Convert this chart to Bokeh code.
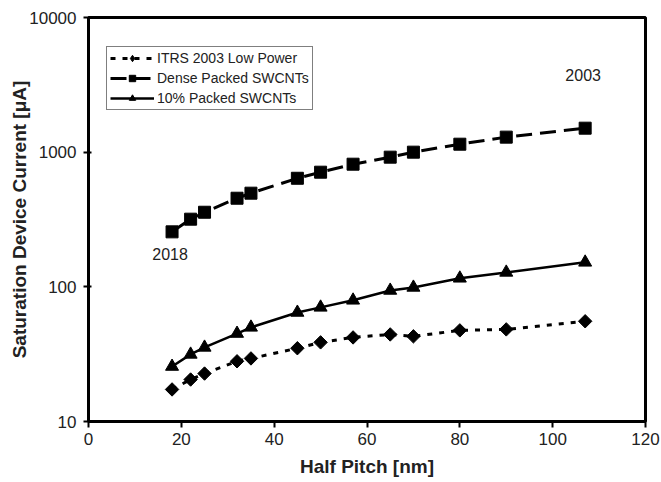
import math
from bokeh.plotting import figure
from bokeh.models import FixedTicker, CustomJSTickFormatter, Legend, LegendItem, ColumnDataSource
from bokeh.core.properties import value
from bokeh.embed import file_html
from bokeh.resources import INLINE

half_pitch = [18, 22, 25, 32, 35, 45, 50, 57, 65, 70, 80, 90, 107]
itrs_low_power = [17.3, 20.5, 22.7, 28.0, 29.4, 35.0, 38.7, 42.1, 44.3, 42.9, 47.5, 48.3, 55.5]
dense_packed = [256, 318, 358, 455, 496, 640, 710, 814, 918, 1000, 1146, 1293, 1507]
packed_10 = [25.6, 31.5, 35.5, 45.0, 50.0, 64.5, 70.4, 79.4, 94.0, 99.0, 115.7, 128.0, 152.0]
x_ticks = [0, 20, 40, 60, 80, 100, 120]
y_ticks = [10, 100, 1000, 10000]
year_labels = ["2018", "2003"]

p = figure(width=661, height=482, output_backend="svg", toolbar_location=None,
           y_axis_type="log", x_range=(0, 120), y_range=(10, 10000),
           min_border_left=88, min_border_right=16, min_border_top=17, min_border_bottom=61)
p.background_fill_color = "white"
p.border_fill_color = "white"
p.grid.grid_line_color = None
p.outline_line_color = "black"
p.outline_line_width = 3

font = "Liberation Sans"
for ax in (p.xaxis[0], p.yaxis[0]):
    ax.axis_line_width = 3
    ax.axis_line_color = "black"
    ax.major_tick_line_width = 2
    ax.major_tick_line_color = "black"
    ax.minor_tick_line_color = None
    ax.major_label_text_font = font
    ax.major_label_text_font_size = "17px"
    ax.major_label_text_color = "#222222"
    ax.axis_label_text_font = font
    ax.axis_label_text_font_style = "bold"
    ax.axis_label_text_font_size = "19px"
    ax.axis_label_text_color = "#222222"

p.xaxis.ticker = FixedTicker(ticks=x_ticks)
p.xaxis.major_tick_out = 6
p.xaxis.major_tick_in = 0
p.xaxis.major_label_standoff = 5
p.xaxis.axis_label = "Half Pitch [nm]"
p.xaxis.axis_label_standoff = 8

p.yaxis.ticker = FixedTicker(ticks=y_ticks)
p.yaxis.formatter = CustomJSTickFormatter(code="return tick.toFixed(0);")
p.yaxis.major_tick_out = 5
p.yaxis.major_tick_in = 3
p.yaxis.major_label_standoff = 7
p.yaxis.axis_label = "Saturation Device Current [μA]"
p.yaxis.axis_label_standoff = -4

r1l = p.line(half_pitch, itrs_low_power, line_color="black", line_width=3, line_dash="5 7")
p.scatter(half_pitch, itrs_low_power, marker="square", angle=math.pi / 4, size=9.5,
          fill_color="black", line_color="black")
# legend-only diamond (no visible point: y is NaN)
r1m = p.scatter(half_pitch[:1], [float("nan")], marker="diamond", size=14,
                fill_color="black", line_color="black")
r2l = p.line(half_pitch, dense_packed, line_color="black", line_width=3, line_dash="16 8")
r2m = p.scatter(half_pitch, dense_packed, marker="square", size=12, fill_color="black", line_color="black")
r3l = p.line(half_pitch, packed_10, line_color="black", line_width=2.5)
r3m = p.scatter(half_pitch, packed_10, marker="triangle", size=13, fill_color="black", line_color="black")

lab = ColumnDataSource(dict(x=[half_pitch[0], half_pitch[-1]], y=[dense_packed[0], dense_packed[-1]],
                            t=year_labels, yo=[22, -53]))
p.text(x="x", y="y", text="t", source=lab, y_offset="yo", x_offset=-2,
       text_align="center", text_baseline="middle", text_font=value(font),
       text_font_size="16px", text_color="#222222")

legend = Legend(items=[
    LegendItem(label="ITRS 2003 Low Power", renderers=[r1l, r1m]),
    LegendItem(label="Dense Packed SWCNTs", renderers=[r2l, r2m]),
    LegendItem(label="10% Packed SWCNTs", renderers=[r3l, r3m]),
], location=(18, 311))
legend.border_line_color = "black"
legend.border_line_width = 1
legend.label_text_font = font
legend.label_text_font_size = "14px"
legend.label_text_color = "#222222"
legend.glyph_width = 44
legend.glyph_height = 16
legend.label_height = 16
legend.spacing = 4
legend.padding = 3
legend.margin = 0
legend.label_standoff = 3
legend.background_fill_alpha = 1
p.add_layout(legend, "center")

open("out.html", "w").write(file_html(p, INLINE))
